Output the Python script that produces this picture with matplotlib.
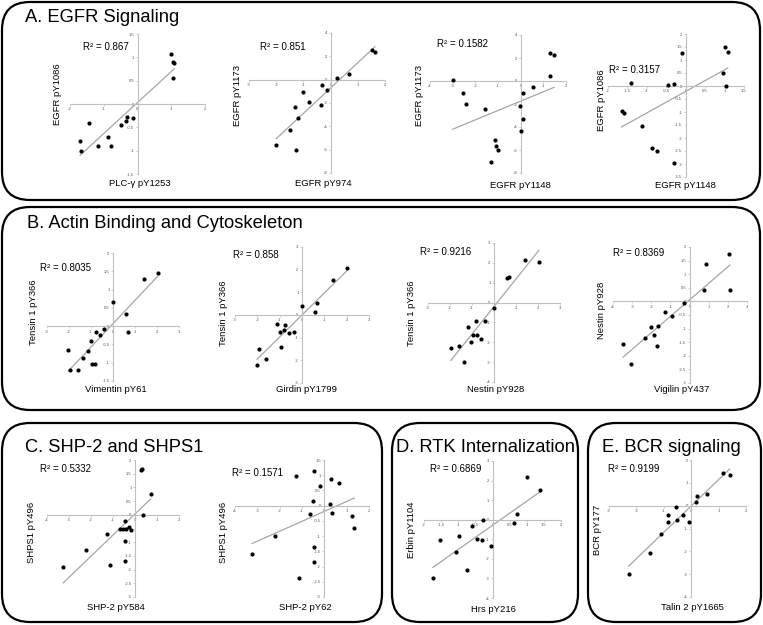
import matplotlib
matplotlib.use('Agg')
import matplotlib.pyplot as plt
from matplotlib.patches import FancyBboxPatch
from matplotlib.ticker import FuncFormatter
import numpy as np

plt.rcParams['font.family'] = ['Liberation Sans', 'DejaVu Sans']

W, H = 763, 625

# ---- data ----
# A. EGFR signaling
a1_x = [0.99, 1.04, 1.09, 1.05, -1.44, -0.12, -0.30, -0.35, -0.49, -0.88, -1.70, -1.66, -1.16, -0.78]
a1_y = [1.07, 0.91, 0.87, 0.56, -0.41, -0.30, -0.28, -0.36, -0.44, -0.71, -0.79, -1.01, -0.91, -0.89]

a2_x = [1.54, 1.63, 0.66, 0.25, -0.30, -0.13, -1.03, -0.81, -0.35, -1.30, -1.19, -1.50, -2.00, -1.28]
a2_y = [2.57, 2.34, 0.49, 0.11, -0.46, -0.91, -1.03, -1.94, -2.14, -2.37, -3.29, -4.34, -5.63, -6.06]

a3_x = [-3.00, -2.53, -2.41, -1.57, 1.29, 1.47, 1.29, 0.53, 0.09, -0.03, 0.12, 0.01, -1.12, -1.07, -0.99, -1.31]
a3_y = [0.09, -1.06, -1.99, -2.42, 2.47, 2.24, 0.43, -0.55, -1.01, -2.16, -3.31, -4.37, -5.15, -5.67, -6.04, -7.02]

a4_x = [-1.41, -1.65, -1.60, -1.13, -0.45, -0.31, -0.10, 1.02, 1.08, 0.97, 1.03, -0.86, -0.73, -0.30]
a4_y = [0.13, -0.97, -1.05, -1.55, 0.03, 0.08, 1.28, 1.50, 1.31, 0.50, 0.00, -2.38, -2.50, -2.95]

# B. Actin binding and cytoskeleton
b1_x = [2.03, 1.42, 0.00, 0.59, 0.68, -0.39, -0.58, -0.77, -1.00, -1.15, -1.36, -2.03, -0.94, -0.83, -1.97, -1.61]
b1_y = [1.45, 1.30, 0.67, 0.34, -0.16, -0.07, -0.25, -0.17, -0.41, -0.68, -0.87, -0.66, -1.03, -1.03, -1.20, -1.20]

b2_x = [2.01, 1.39, -0.01, 0.67, 0.60, -1.13, -0.75, -1.00, -0.81, -0.58, -0.37, -0.93, -1.93, -1.60, -2.01]
b2_y = [2.06, 1.55, 0.39, 0.51, 0.13, -0.39, -0.43, -0.77, -0.68, -0.81, -0.74, -1.43, -1.49, -1.93, -2.22]

b3_x = [2.04, 1.42, 0.66, 0.60, 0.00, -0.39, -0.83, -1.18, -0.94, -0.77, -1.03, -0.60, -1.60, -1.96, -1.36]
b3_y = [2.05, 2.12, 1.29, 1.24, -0.25, -0.93, -0.93, -1.25, -1.64, -1.61, -2.00, -1.81, -2.17, -2.31, -3.00]

b4_x = [2.05, 0.84, 0.77, 2.11, -0.28, -0.93, -1.28, -1.65, -2.04, -1.86, -2.33, -1.68, -3.47, -3.04]
b4_y = [1.75, 1.39, 0.42, 0.42, -0.06, -0.52, -0.40, -0.90, -0.93, -1.24, -1.35, -1.65, -1.57, -2.31]

# C. SHP-2 and SHPS1
c1_x = [0.27, 0.32, 0.71, 0.35, -0.47, -0.68, -0.56, -0.41, -0.26, -0.18, -1.27, -0.44, -2.25, -0.45, -1.13, -3.26]
c1_y = [1.65, 1.66, 0.77, 0.00, -0.21, -0.51, -0.51, -0.51, -0.45, -0.54, -0.71, -0.94, -1.28, -1.67, -1.83, -1.91]

c2_x = [-0.48, -1.27, 0.30, -0.19, 0.67, -0.52, 0.25, -0.64, 0.34, 1.22, 1.34, -2.22, -0.45, -0.45, -1.15, -3.24]
c2_y = [1.15, 0.96, 0.87, 0.65, 0.76, 0.14, 0.05, -0.26, -0.24, -0.35, -0.73, -0.98, -1.35, -1.85, -2.36, -1.58]

# D. RTK internalization
d_x = [1.02, 1.39, 0.71, 0.64, -0.27, -0.59, -1.53, -0.98, -0.45, -0.32, -0.03, -1.08, -0.74, -1.74]
d_y = [2.20, 1.53, 0.31, -0.17, 0.00, -0.31, -1.05, -0.85, -0.98, -1.05, -1.36, -1.64, -2.58, -2.97]

# E. BCR signaling
e_x = [1.16, 1.40, 0.57, 0.21, 0.18, -0.55, -0.84, -0.30, -0.51, -0.84, -0.09, -1.12, -1.50, -2.28]
e_y = [1.45, 1.35, 0.49, 0.43, 0.14, -0.07, -0.41, -0.43, -0.61, -0.70, -0.72, -1.23, -2.06, -3.01]

titles = ["A. EGFR Signaling", "B. Actin Binding and Cytoskeleton",
          "C. SHP-2 and SHPS1", "D. RTK Internalization", "E. BCR signaling"]

x_labels = ["PLC-\u03b3 pY1253", "EGFR pY974", "EGFR pY1148", "EGFR pY1148",
            "Vimentin pY61", "Girdin pY1799", "Nestin pY928", "Vigilin pY437",
            "SHP-2 pY584", "SHP-2 pY62", "Hrs pY216", "Talin 2 pY1665"]
y_labels = ["EGFR pY1086", "EGFR pY1173", "EGFR pY1173", "EGFR pY1086",
            "Tensin 1 pY366", "Tensin 1 pY366", "Tensin 1 pY366", "Nestin pY928",
            "SHPS1 pY496", "SHPS1 pY496", "Erbin pY1104", "BCR pY177"]
r2_labels = ["R\u00b2 = 0.867", "R\u00b2 = 0.851", "R\u00b2 = 0.1582", "R\u00b2 = 0.3157",
             "R\u00b2 = 0.8035", "R\u00b2 = 0.858", "R\u00b2 = 0.9216", "R\u00b2 = 0.8369",
             "R\u00b2 = 0.5332", "R\u00b2 = 0.1571", "R\u00b2 = 0.6869", "R\u00b2 = 0.9199"]

series = [(a1_x, a1_y), (a2_x, a2_y), (a3_x, a3_y), (a4_x, a4_y),
          (b1_x, b1_y), (b2_x, b2_y), (b3_x, b3_y), (b4_x, b4_y),
          (c1_x, c1_y), (c2_x, c2_y), (d_x, d_y), (e_x, e_y)]

# ---- layout (pixels) ----
# axes box: left, right, top, bottom ; x range/step ; y range/step
axes_px = [(70, 205, 34, 174), (249, 385, 33, 173), (430, 566, 35, 173), (608, 744, 34, 177),
           (47, 179, 253, 381), (235, 369, 247, 383), (428, 560, 243, 382), (613, 747, 247, 383),
           (47, 179, 460, 597), (235, 369, 460, 597), (424, 561, 461, 598), (609, 746, 460, 597)]
x_ranges = [(-2, 2, 1), (-3, 2, 1), (-4, 2, 1), (-2, 1.5, 0.5),
            (-3, 3, 1), (-3, 3, 1), (-3, 3, 1), (-4, 3, 1),
            (-4, 2, 1), (-4, 2, 1), (-2, 2, 0.5), (-3, 2, 1)]
y_ranges = [(-1.5, 1.5, 0.5), (-8, 4, 2), (-8, 4, 2), (-3.5, 2, 0.5),
            (-1.5, 2, 0.5), (-3, 3, 1), (-4, 3, 1), (-3, 2, 0.5),
            (-3, 2, 0.5), (-3, 1.5, 0.5), (-4, 3, 1), (-4, 2, 1)]
ylab_px = [(58, 94), (238, 95), (419, 95), (602, 100),
           (33, 312), (223, 313), (412, 313), (602, 310),
           (32, 532), (223, 532), (412, 530), (598, 530)]
xlab_px = [(140, 184), (323, 184), (520, 185), (685, 186),
           (116, 390), (306, 390), (496, 390), (682, 390),
           (116, 608), (305, 608), (493, 610), (692, 608)]
r2_px = [(83, 47), (260, 47), (437, 44), (609, 70),
         (40, 268), (233, 255), (420, 252), (613, 253),
         (40, 469), (232, 473), (430, 469), (608, 469)]

boxes = [(2, 2, 760, 200), (2, 207, 760, 410),
         (2, 423, 382, 622), (392, 423, 578, 622), (588, 423, 761, 622)]
title_px = [(25, 17), (27, 223), (25, 447), (396, 448), (602, 447)]

fig = plt.figure(figsize=(W / 100, H / 100), dpi=100)

bg = fig.add_axes([0, 0, 1, 1])
bg.set_xlim(0, W)
bg.set_ylim(H, 0)
bg.axis('off')

for x0, y0, x1, y1 in boxes:
    bg.add_patch(FancyBboxPatch((x0, y0), x1 - x0, y1 - y0,
                                boxstyle="round,pad=0,rounding_size=28",
                                fc='none', ec='black', lw=1.6))
for (tx, ty), t in zip(title_px, titles):
    bg.text(tx, ty, t, fontsize=13.2, va='center', ha='left')

fmt = FuncFormatter(lambda v, p: f"{v:g}")
gray = '#bfbfbf'

for i, (x, y) in enumerate(series):
    l, r, t, b = axes_px[i]
    ax = fig.add_axes([l / W, 1 - b / H, (r - l) / W, (b - t) / H])
    ax.patch.set_alpha(0)
    x = np.array(x)
    y = np.array(y)
    ax.scatter(x, y, s=9, c='black', lw=0, zorder=3)
    k, c0 = np.polyfit(x, y, 1)
    xs = np.array([x.min(), x.max()])
    ax.plot(xs, k * xs + c0, color='#a6a6a6', lw=0.9, zorder=2)

    x0, x1, xs_ = x_ranges[i]
    y0, y1, ys_ = y_ranges[i]
    ax.set_xlim(x0, x1)
    ax.set_ylim(y0, y1)
    ax.set_xticks(np.arange(x0, x1 + 1e-9, xs_))
    ax.set_yticks(np.arange(y0, y1 + 1e-9, ys_))
    ax.xaxis.set_major_formatter(fmt)
    ax.yaxis.set_major_formatter(fmt)
    for s in ['top', 'right']:
        ax.spines[s].set_visible(False)
    for s in ['left', 'bottom']:
        ax.spines[s].set_position(('data', 0))
        ax.spines[s].set_color(gray)
        ax.spines[s].set_linewidth(0.8)
    ax.tick_params(length=1.5, width=0.5, color=gray, labelsize=3,
                   labelcolor='#505050', pad=1)

    bg.text(ylab_px[i][0], ylab_px[i][1], y_labels[i], rotation=90,
            fontsize=6.8, ha='center', va='center')
    bg.text(xlab_px[i][0], xlab_px[i][1], x_labels[i],
            fontsize=6.8, ha='center', va='center')
    bg.text(r2_px[i][0], r2_px[i][1], r2_labels[i],
            fontsize=7, ha='left', va='center')

fig.savefig('out.png', dpi=100)
